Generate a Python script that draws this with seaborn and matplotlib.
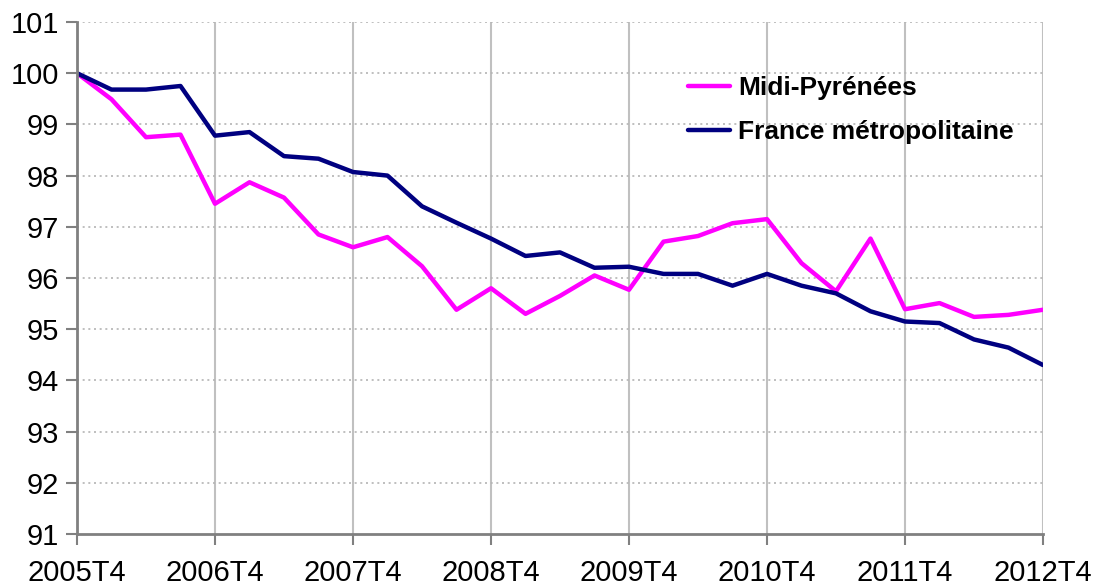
import pandas as pd
import matplotlib
matplotlib.use("Agg")
import matplotlib.pyplot as plt
import seaborn as sns

# quarters 2005T4 .. 2012T4
years = list(range(2005, 2013))
year_labels = [f"{y}T4" for y in years]

midi_pyrenees = [100.0, 99.49, 98.75, 98.8, 97.45, 97.87, 97.57, 96.85, 96.6, 96.8,
                 96.23, 95.38, 95.8, 95.3, 95.65, 96.05, 95.77, 96.71, 96.82, 97.07,
                 97.15, 96.29, 95.74, 96.77, 95.39, 95.51, 95.24, 95.28, 95.38]
france_metro = [100.0, 99.68, 99.68, 99.75, 98.78, 98.85, 98.38, 98.33, 98.07, 98.0,
                97.4, 97.08, 96.77, 96.43, 96.5, 96.2, 96.22, 96.08, 96.08, 95.85,
                96.08, 95.85, 95.7, 95.35, 95.15, 95.12, 94.8, 94.64, 94.3]

series_names = ["Midi-Pyrénées", "France métropolitaine"]
colors = ["#ff00ff", "#000080"]

# Build long-form table
n = len(midi_pyrenees)
df = pd.DataFrame({
    "quarter": list(range(n)) * 2,
    "value": midi_pyrenees + france_metro,
    "zone": [series_names[0]] * n + [series_names[1]] * n,
})

sns.set_style("white")
plt.rcParams["font.family"] = ["Liberation Sans", "DejaVu Sans"]
plt.rcParams["text.color"] = "black"

fig = plt.figure(figsize=(10.94, 5.86), dpi=100)
ax = fig.add_axes([77 / 1094, 52 / 586, 966 / 1094, 512 / 586])

sns.lineplot(data=df, x="quarter", y="value", hue="zone", palette=colors,
             linewidth=3.2, ax=ax, legend=True)

ax.set_xlim(0, n - 1)
ax.set_ylim(91, 101)
ax.set_xticks(range(0, n, 4))
ax.set_xticklabels(year_labels)
ax.set_yticks(range(91, 102))
ax.set_xlabel("")
ax.set_ylabel("")

# gridlines: solid verticals at years, dotted horizontals
for x in range(4, n, 4):
    ax.axvline(x, color="#c0c0c0", linewidth=1.5, zorder=0)
for y in range(92, 102):
    ax.axhline(y, color="#b4b4b4", linewidth=1.2, linestyle=(0, (1.2, 2.2)), zorder=0)

for side in ["top", "right"]:
    ax.spines[side].set_visible(False)
for side in ["left", "bottom"]:
    ax.spines[side].set_color("#808080")
    ax.spines[side].set_linewidth(2)

ax.tick_params(axis="both", direction="out", length=8, width=1.5, color="#808080",
               labelsize=21, labelcolor="black")
ax.tick_params(axis="x", pad=10)
ax.tick_params(axis="y", pad=5)
ax.xaxis.set_ticks_position("bottom")
ax.yaxis.set_ticks_position("left")

leg = ax.legend(title=None, frameon=False, loc="upper left",
                bbox_to_anchor=(0.608, 0.94), handlelength=1.6, handletextpad=0.3,
                labelspacing=0.75, prop={"weight": "bold", "size": 19})
for line in leg.get_lines():
    line.set_linewidth(3.2)
for t in leg.get_texts():
    t.set_color("black")

fig.savefig("out.png", dpi=100)
